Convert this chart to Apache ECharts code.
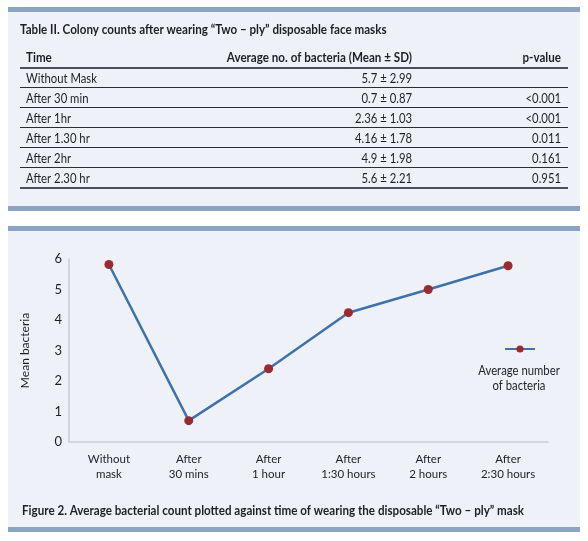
<!DOCTYPE html>
<html>
<head>
<meta charset="utf-8">
<script src="https://cdn.jsdelivr.net/npm/echarts@6/dist/echarts.min.js"></script>
<style>
html,body{margin:0;padding:0;background:#fff;}
#c{width:588px;height:541px;}
</style>
</head>
<body>
<div id="c"></div>
<script>
// ---- Table data ----
var tableTitle = 'Table II. Colony counts after wearing \u201cTwo \u2013 ply\u201d disposable face masks';
var tableHeaders = ['Time', 'Average no. of bacteria (Mean \u00b1 SD)', 'p-value'];
var tableTimes = ['Without Mask', 'After 30 min', 'After 1hr', 'After 1.30 hr', 'After 2hr', 'After 2.30 hr'];
var tableMeanSD = ['5.7 \u00b1 2.99', '0.7 \u00b1 0.87', '2.36 \u00b1 1.03', '4.16 \u00b1 1.78', '4.9 \u00b1 1.98', '5.6 \u00b1 2.21'];
var tablePValues = ['', '<0.001', '<0.001', '0.011', '0.161', '0.951'];

// ---- Chart data ----
var categories = ['Without\nmask', 'After\n30 mins', 'After\n1 hour', 'After\n1:30 hours', 'After\n2 hours', 'After\n2:30 hours'];
var seriesName = 'Average number\nof bacteria';
var meanBacteria = [5.82, 0.7, 2.4, 4.24, 5.0, 5.78];
var yTicks = [0, 1, 2, 3, 4, 5, 6];
var yAxisName = 'Mean bacteria';
var figureCaption = 'Figure 2. Average bacterial count plotted against time of wearing the disposable \u201cTwo \u2013 ply\u201d mask';

var FONT = 'Lato, "Open Sans", sans-serif';
var TEXT = '#1d2026';
var PANEL = '#eef1f7';
var BAND = '#8ba4c4';

var graphics = [];
function rect(x, y, w, h, color) {
  graphics.push({type: 'rect', shape: {x: x, y: y, width: w, height: h}, style: {fill: color}, z: -10, silent: true});
}
function line(x1, y1, x2, y2, color, w) {
  graphics.push({type: 'line', shape: {x1: x1, y1: y1, x2: x2, y2: y2}, style: {stroke: color, lineWidth: w}, z: -5, silent: true});
}
function text(str, x, y, align, bold, size, sx) {
  graphics.push({type: 'text', x: x, y: y, scaleX: sx || 1,
    style: {text: str, fill: TEXT, font: (bold ? 'bold ' : '') + (size || 13) + 'px ' + FONT, textAlign: align, textVerticalAlign: 'middle'},
    z: -4, silent: true});
}

// Panel 1 (table)
rect(8, 7, 572, 200, PANEL);
rect(8, 7, 572, 5, BAND);
rect(8, 206, 572, 5, BAND);
// Panel 2 (figure)
rect(8, 226, 572, 306, PANEL);
rect(8, 226, 572, 5, BAND);
rect(8, 527, 572, 5, BAND);

var BSX = 0.93, RSX = 0.87;
text(tableTitle, 20, 30, 'left', true, 12.5, BSX);
var colX = [26, 412, 561];
text(tableHeaders[0], colX[0], 58, 'left', true, 12.5, BSX);
text(tableHeaders[1], colX[1], 58, 'right', true, 12.5, BSX);
text(tableHeaders[2], colX[2], 58, 'right', true, 12.5, BSX);
line(20, 68, 568, 68, '#4a4f58', 2);
for (var i = 0; i < tableTimes.length; i++) {
  var cy = 79 + i * 20;
  text(tableTimes[i], colX[0], cy, 'left', false, 13, RSX);
  text(tableMeanSD[i], colX[1], cy, 'right', false, 13, RSX);
  text(tablePValues[i], colX[2], cy, 'right', false, 13, RSX);
  var ly = 88 + i * 20;
  if (i < tableTimes.length - 1) line(20, ly - 0.5, 568, ly - 0.5, '#2a2d33', 1);
  else line(20, ly, 568, ly, '#4a4f58', 2);
}

text(figureCaption, 22, 511, 'left', true, 12.5, BSX);

// Legend text below the legend icon
text(seriesName.split('\n')[0], 519, 371, 'center', false, 13, RSX);
text(seriesName.split('\n')[1], 519, 386, 'center', false, 13, RSX);

var chart = echarts.init(document.getElementById('c'), null, {renderer: 'canvas'});
chart.setOption({
  backgroundColor: '#ffffff',
  animation: false,
  graphic: {elements: graphics},
  grid: {left: 69, right: 40, top: 259, bottom: 99, containLabel: false},
  legend: {
    show: true,
    left: 504,
    top: 344.5,
    itemWidth: 30,
    itemHeight: 9,
    itemGap: 0,
    padding: 0,
    formatter: function () { return ''; },
    textStyle: {fontSize: 1},
    data: [seriesName]
  },
  xAxis: {
    type: 'category',
    data: categories,
    boundaryGap: true,
    axisLine: {show: true, lineStyle: {color: '#c6ccd6', width: 1.5}},
    axisTick: {show: false},
    axisLabel: {color: TEXT, fontFamily: FONT, fontSize: 11.5, lineHeight: 15, margin: 10, interval: 0}
  },
  yAxis: {
    type: 'value',
    min: yTicks[0],
    max: yTicks[yTicks.length - 1],
    interval: 1,
    name: yAxisName,
    nameLocation: 'middle',
    nameGap: 38,
    nameTextStyle: {color: TEXT, fontFamily: FONT, fontSize: 12},
    axisLine: {show: true, lineStyle: {color: '#c6ccd6', width: 1.5}},
    axisTick: {show: false},
    splitLine: {show: false},
    axisLabel: {color: TEXT, fontFamily: FONT, fontSize: 13, margin: 7}
  },
  series: [{
    name: seriesName,
    type: 'line',
    data: meanBacteria,
    symbol: 'circle',
    symbolSize: 9,
    lineStyle: {color: '#3f72aa', width: 2.5},
    itemStyle: {color: '#9a2a30'},
    z: 5
  }]
});
</script>
</body>
</html>
